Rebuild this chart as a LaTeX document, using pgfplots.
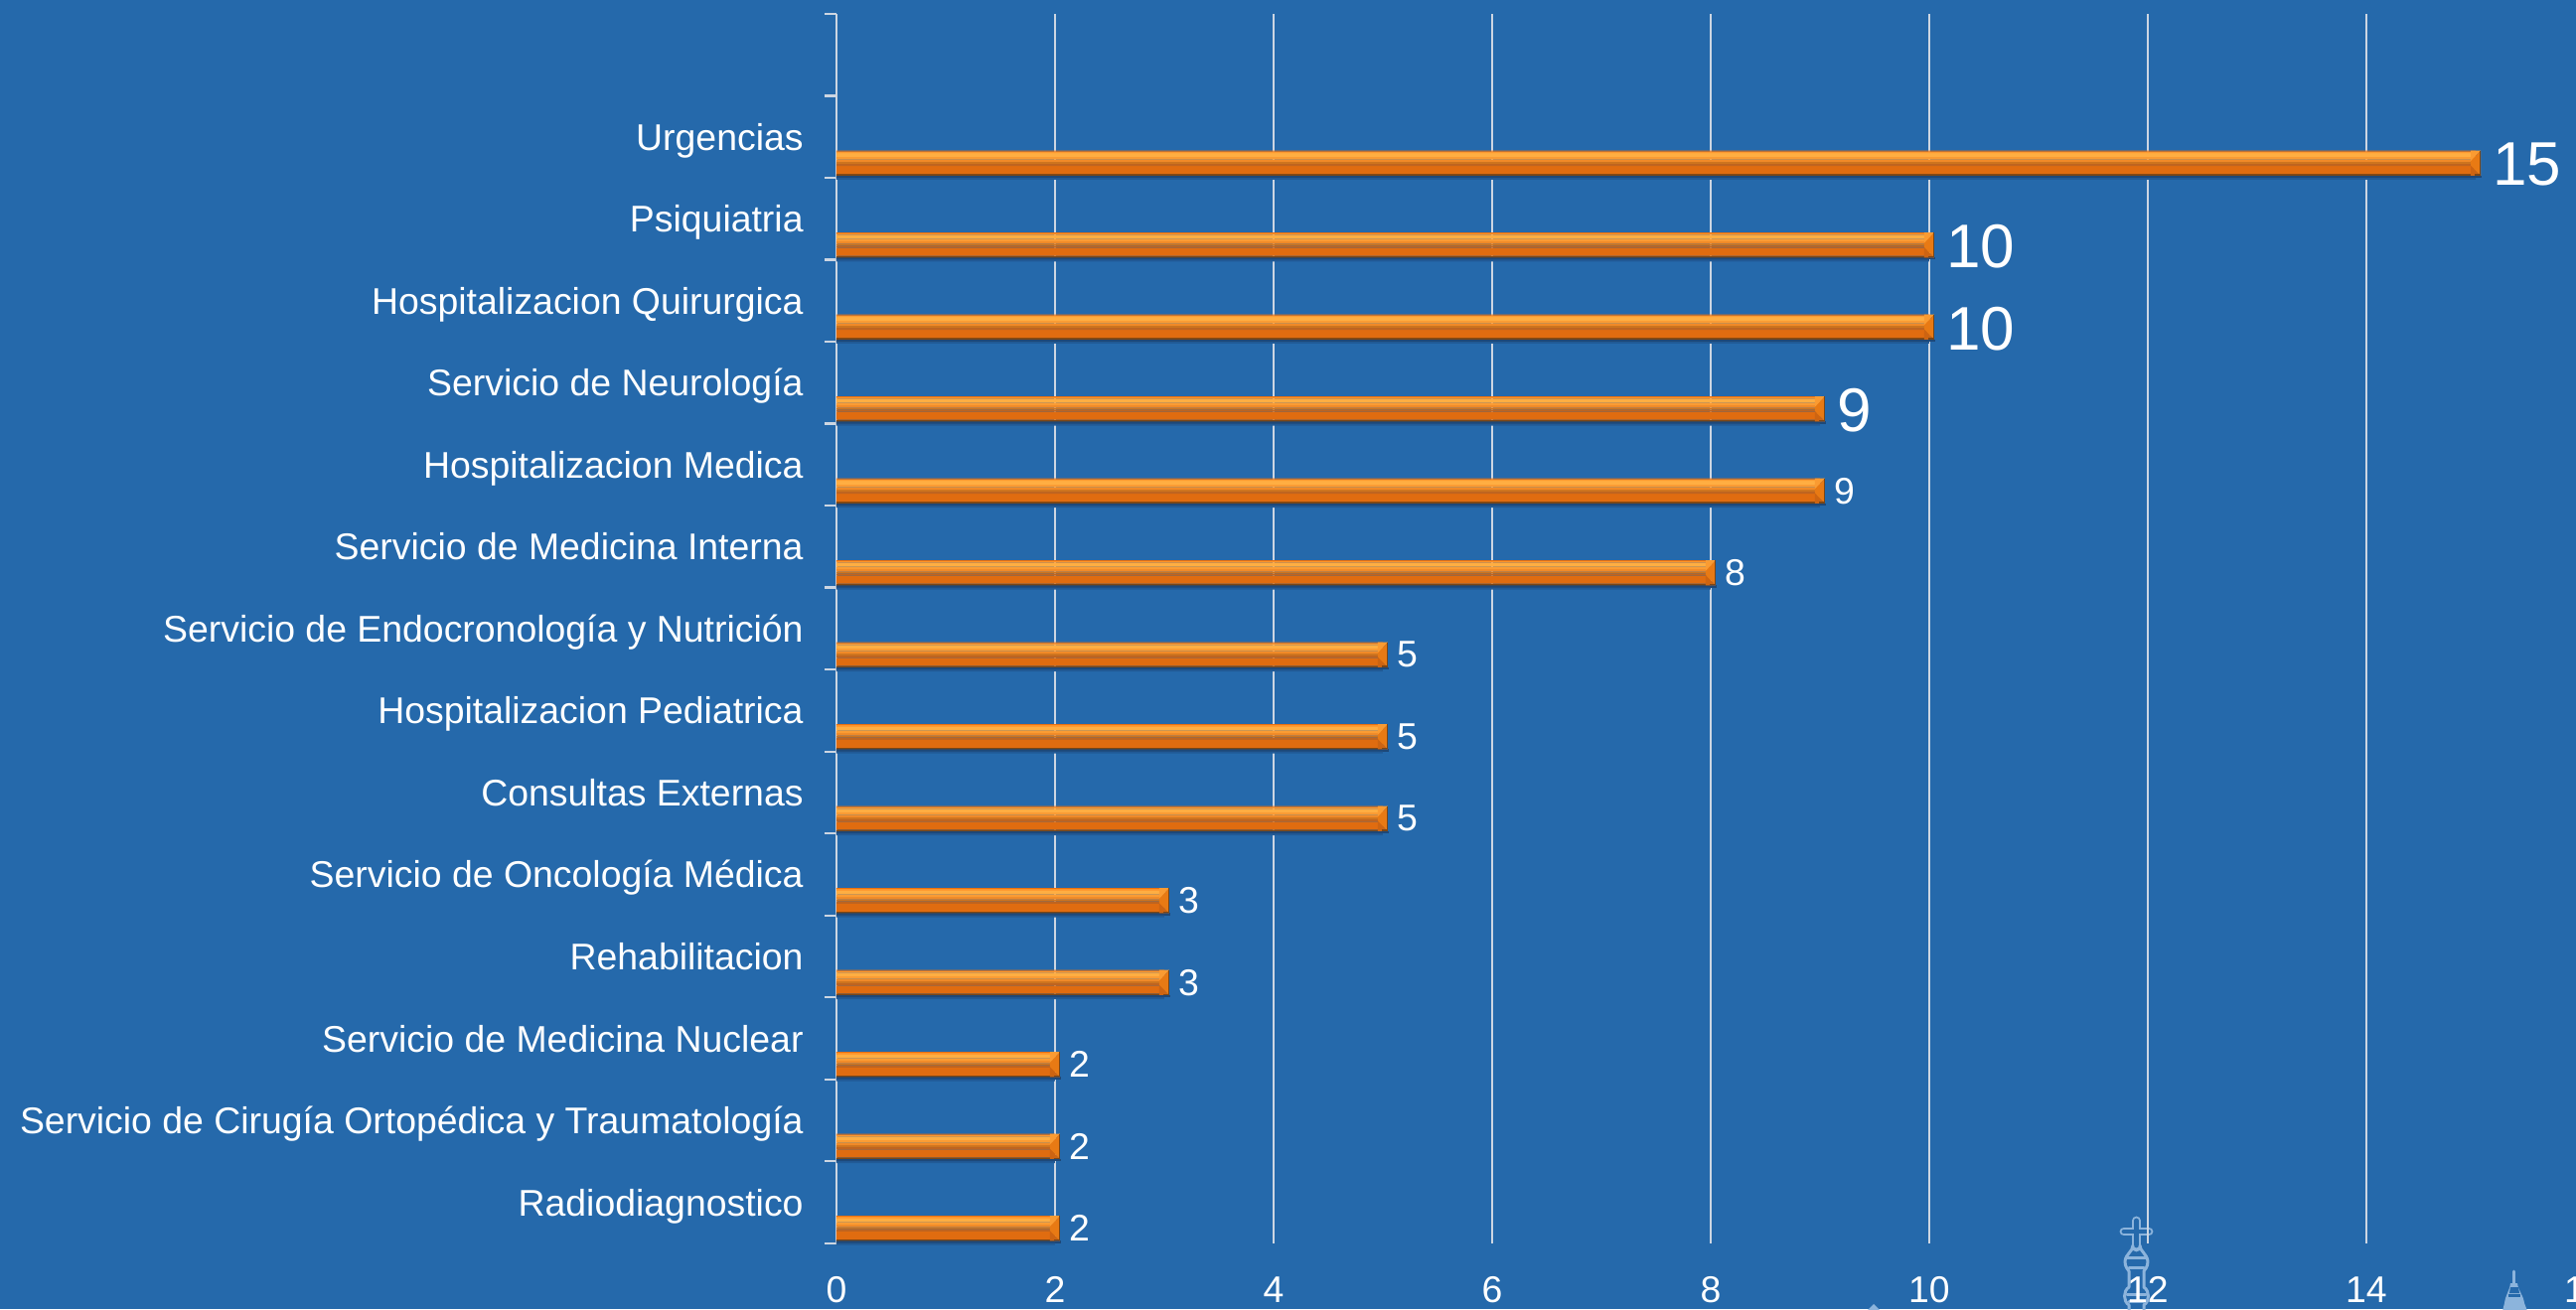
\documentclass[border=0pt]{standalone}
\usepackage{pgfplots}
\pgfplotsset{compat=1.18}
\usepackage{pgfplotstable}
\usepackage{fontspec}
\setmainfont{Liberation Sans}
\definecolor{bgblue}{RGB}{37,105,171}
\definecolor{gridc}{RGB}{205,214,226}
\definecolor{capc}{RGB}{232,122,20}
\definecolor{capt}{RGB}{250,155,50}
\definecolor{capb}{RGB}{205,100,18}
\definecolor{rim}{RGB}{122,70,22}
\definecolor{shadowa}{RGB}{30,72,120}
\definecolor{shadowb}{RGB}{33,90,150}
\definecolor{wm}{RGB}{140,180,220}
\definecolor{fa}{RGB}{224,108,16}
\definecolor{fb}{RGB}{190,100,32}
\definecolor{fc}{RGB}{205,116,30}
\definecolor{fd}{RGB}{240,138,40}
\definecolor{fe}{RGB}{250,156,52}
\definecolor{ff}{RGB}{255,174,66}
\definecolor{fg}{RGB}{255,154,48}
\definecolor{fh}{RGB}{232,112,16}
\pgfdeclareplotmark{bevel}{%
 % soft shadow past the end of the bar
 \pgfsetfillcolor{shadowa}\pgfpathrectangle{\pgfqpoint{0pt}{-7.4pt}}{\pgfqpoint{2.8pt}{1.2pt}}\pgfusepathqfill
 % upper face
 \pgfsetfillcolor{capt}%
 \pgfpathmoveto{\pgfqpoint{-2.5pt}{6.3pt}}\pgfpathlineto{\pgfqpoint{2.5pt}{6.3pt}}\pgfpathlineto{\pgfqpoint{-2.5pt}{0.9pt}}\pgfpathclose\pgfusepathqfill
 % lower face
 \pgfsetfillcolor{capb}%
 \pgfpathmoveto{\pgfqpoint{-2.5pt}{-6.3pt}}\pgfpathlineto{\pgfqpoint{2.5pt}{-6.3pt}}\pgfpathlineto{\pgfqpoint{-2.5pt}{-1.1pt}}\pgfpathclose\pgfusepathqfill
 % end face
 \pgfsetfillcolor{capc}%
 \pgfpathmoveto{\pgfqpoint{2.5pt}{6.3pt}}\pgfpathlineto{\pgfqpoint{2.5pt}{-6.3pt}}\pgfpathlineto{\pgfqpoint{-2.5pt}{-1.1pt}}\pgfpathlineto{\pgfqpoint{-2.5pt}{0.9pt}}\pgfpathclose\pgfusepathqfill
 % rims
 \pgfsetfillcolor{rim}%
 \pgfpathrectangle{\pgfqpoint{2.2pt}{-6.3pt}}{\pgfqpoint{0.4pt}{12.6pt}}\pgfusepathqfill
 \pgfpathrectangle{\pgfqpoint{-0.5pt}{-6.3pt}}{\pgfqpoint{3.1pt}{0.7pt}}\pgfusepathqfill
}
\pgfplotstableread{
v y
15 13.18
10 12.18
10 11.18
9 10.18
9 9.18
8 8.18
5 7.18
5 6.18
5 5.18
3 4.18
3 3.18
2 2.18
2 1.18
2 0.18
}\bars
\pgfplotstableread{
v y
15 13.18
10 12.18
10 11.18
9 10.18
}\bigbars
\pgfplotstableread{
v y
9 9.18
8 8.18
5 7.18
5 6.18
5 5.18
3 4.18
3 3.18
2 2.18
2 1.18
2 0.18
}\smallbars
\newcommand{\strip}[3]{\addplot[bar shift=#1pt,bar width=#2pt,draw=none,fill=#3,forget plot] table[x=v,y=y] {\bars};}
\begin{document}
\begin{tikzpicture}
\path[use as bounding box] (-421pt,-33.15pt) rectangle (875.5pt,625.85pt);
\clip (-421pt,-33.15pt) rectangle (875.5pt,625.85pt);
\fill[bgblue] (-421pt,-33.15pt) rectangle (875.5pt,625.85pt);
% faint towers of the slide's background (decoration, in reference pixels)
\begin{scope}[shift={(-421pt,625.85pt)},x=0.5pt,y=-0.5pt,line cap=round,line join=round]
 \draw[wm,line width=4.4pt] (2150.5,1229)--(2150.5,1256) (2138,1240)--(2163,1240);
 \draw[bgblue,line width=2.4pt] (2150.5,1229)--(2150.5,1254) (2138,1240)--(2163,1240);
 \draw[wm,line width=1.5pt] (2147,1254) .. controls (2147,1260) and (2140,1262) .. (2139,1270) .. controls (2139,1276) and (2142,1278) .. (2143,1280) -- (2143,1296) .. controls (2137,1300) and (2137,1310) .. (2143,1314) -- (2143,1320);
 \draw[wm,line width=1.5pt] (2154,1254) .. controls (2154,1260) and (2161,1262) .. (2162,1270) .. controls (2162,1276) and (2159,1278) .. (2158,1280) -- (2158,1296) .. controls (2164,1300) and (2164,1310) .. (2158,1314) -- (2158,1320);
 \draw[wm,line width=1.5pt] (2141,1266)--(2160,1266) (2143,1276)--(2158,1276) (2141,1303)--(2160,1303) (2143,1310)--(2158,1310);
 \draw[wm,line width=1.4pt] (2530.5,1280)--(2530.5,1292);
 \fill[wm] (2527,1292) .. controls (2526,1300) and (2522,1304) .. (2521,1312) -- (2519,1320) -- (2544,1320) -- (2541,1312) .. controls (2540,1304) and (2535,1300) .. (2534,1292) -- cycle;
 \fill[bgblue] (2525,1303) rectangle (2537,1306);
 \fill[bgblue] (2527,1296) -- (2535,1296) -- (2536,1302) -- (2526,1302) -- cycle;
 \fill[wm] (1886,1313) -- (1880,1319) -- (1892,1319) -- cycle;
\end{scope}
\begin{axis}[
 scale only axis, width=880pt, height=618.85pt,
 at={(0pt,0pt)}, anchor=south west,
 xmin=0, xmax=16, ymin=0, ymax=15,
 clip=false,
 axis y line=left, axis x line=bottom,
 x axis line style={draw=none}, y axis line style={draw=gridc,line width=1.1pt,-},
 xtick={0,2,...,16},
 xmajorgrids, major x grid style={draw=gridc,line width=0.9pt},
 xtick style={draw=none},
 major tick length=0pt, minor tick length=6pt,
 tick align=outside,
 minor ytick={0,1,...,15},
 minor y tick style={draw=gridc,line width=1.1pt},
 ytick={0.5,1.5,...,13.5},
 ytick style={draw=none},
 yticklabels={Radiodiagnostico,Servicio de Cirugía Ortopédica y Traumatología,Servicio de Medicina Nuclear,Rehabilitacion,Servicio de Oncología Médica,Consultas Externas,Hospitalizacion Pediatrica,Servicio de Endocronología y Nutrición,Servicio de Medicina Interna,Hospitalizacion Medica,Servicio de Neurología,Hospitalizacion Quirurgica,Psiquiatria,Urgencias},
 tick label style={text=white,font=\fontsize{18.7}{20}\selectfont},
 yticklabel style={anchor=east,inner sep=0pt,xshift=-16.5pt,yshift=-1.8pt,text height=13pt,text depth=3pt},
 xticklabel style={anchor=north,inner sep=0pt,yshift=-16.6pt},
 /pgf/number format/assume math mode=true,
 xbar, point meta=x,
]
% shadow
\strip{-7.3}{2.2}{shadowb}
\strip{-6.8}{1.2}{shadowa}
% bevelled bar, face by face from bottom to top
\strip{-5.9}{0.8}{rim}
\strip{-3.5}{4.0}{fa}
\strip{-0.9}{1.2}{fb}
\strip{0.15}{0.9}{fc}
\strip{1.2}{1.2}{fd}
\strip{2.5}{1.4}{fe}
\strip{4.1}{1.8}{ff}
\strip{5.4}{0.8}{fg}
\strip{6.05}{0.5}{fh}
% end caps
\addplot[only marks,mark=bevel,draw=none,forget plot] table[x=v,y=y] {\bars};
% data labels
\addplot[bar shift=0pt,bar width=12.6pt,draw=none,fill=none,
 nodes near coords={\pgfmathprintnumber{\pgfplotspointmeta}},
 nodes near coords style={anchor=west,text=white,inner sep=0pt,xshift=8.5pt,yshift=-0.9pt,font=\fontsize{31}{33}\selectfont}]
 table[x=v,y=y] {\bigbars};
\addplot[bar shift=0pt,bar width=12.6pt,draw=none,fill=none,
 nodes near coords={\pgfmathprintnumber{\pgfplotspointmeta}},
 nodes near coords style={anchor=west,text=white,inner sep=0pt,xshift=6.9pt,font=\fontsize{18.7}{20}\selectfont}]
 table[x=v,y=y] {\smallbars};
\end{axis}
\end{tikzpicture}
\end{document}
